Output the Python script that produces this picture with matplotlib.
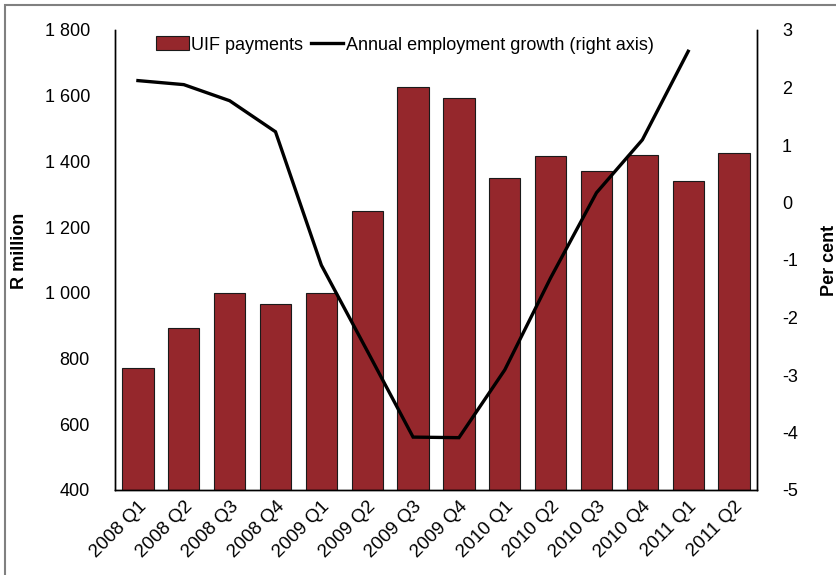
import numpy as np
import matplotlib.pyplot as plt
from matplotlib.patches import Patch, Rectangle
from matplotlib.lines import Line2D

plt.rcParams['font.family'] = ['Liberation Sans', 'DejaVu Sans']
plt.rcParams['axes.unicode_minus'] = False

quarters = ['2008 Q1', '2008 Q2', '2008 Q3', '2008 Q4',
            '2009 Q1', '2009 Q2', '2009 Q3', '2009 Q4',
            '2010 Q1', '2010 Q2', '2010 Q3', '2010 Q4',
            '2011 Q1', '2011 Q2']
# UIF payments, R million
uif_payments = [771, 894, 1000, 966, 1000, 1249, 1627, 1593,
                1350, 1417, 1371, 1420, 1341, 1427]
# annual employment growth, per cent (no figure yet for 2011 Q2)
employment_growth = [2.12, 2.05, 1.77, 1.23, -1.09, -2.58, -4.08, -4.09,
                     -2.91, -1.31, 0.17, 1.09, 2.63, np.nan]

left_ticks = [400, 600, 800, 1000, 1200, 1400, 1600, 1800]
left_ticklabels = ['400', '600', '800', '1 000', '1 200', '1 400', '1 600', '1 800']
right_ticks = [-5, -4, -3, -2, -1, 0, 1, 2, 3]

bar_color = '#95272c'

fig = plt.figure(figsize=(8.37, 5.75), dpi=100)
ax = fig.add_axes([115 / 837, 1 - 490 / 575, (757 - 115) / 837, 460 / 575])
ax2 = ax.twinx()

x = np.arange(len(quarters))
ax.bar(x, uif_payments, width=0.68, color=bar_color, edgecolor='#1a1a1a',
       linewidth=0.8, zorder=2)
ax2.plot(x, employment_growth, color='black', linewidth=2.4,
         solid_joinstyle='miter')

ax.set_xlim(-0.5, len(quarters) - 0.5)
ax.set_ylim(400, 1800)
ax.set_yticks(left_ticks)
ax.set_yticklabels(left_ticklabels)
ax2.set_ylim(-5, 3)
ax2.set_yticks(right_ticks)

ax.set_xticks(x)
ax.set_xticklabels(quarters, rotation=45, ha='right', rotation_mode='anchor')

for a in (ax, ax2):
    a.spines['top'].set_visible(False)
    for s in ('left', 'right', 'bottom'):
        a.spines[s].set_linewidth(1.0)
        a.spines[s].set_color('black')
    a.tick_params(axis='both', length=0, labelsize=13)
ax.tick_params(axis='y', pad=18)
ax.tick_params(axis='x', pad=6, labelsize=13.5)
ax2.tick_params(axis='y', pad=18)

ax.set_ylabel('R million', fontsize=13, fontweight='bold')
ax.yaxis.set_label_coords(-0.135, 0.52)
ax2.set_ylabel('Per cent', fontsize=13, fontweight='bold', rotation=90)
ax2.yaxis.set_label_coords(1.1, 0.5)

handles = [Patch(facecolor=bar_color, edgecolor='#1a1a1a', linewidth=0.8),
           Line2D([0], [0], color='black', linewidth=2.4)]
fig.legend(handles, ['UIF payments', 'Annual employment growth (right axis)'],
           loc='center', bbox_to_anchor=(405 / 837, 1 - 45 / 575), ncol=2,
           frameon=False, fontsize=13, handlelength=1.8, handleheight=0.8,
           handletextpad=0.15, columnspacing=0.4)

# grey frame round the figure
fig.patches.append(Rectangle((5 / 837, -0.1), 1.2, 1 - 5 / 575 + 0.1,
                             transform=fig.transFigure, fill=False,
                             edgecolor='#808080', linewidth=1.5))

fig.savefig('out.png', dpi=100)
